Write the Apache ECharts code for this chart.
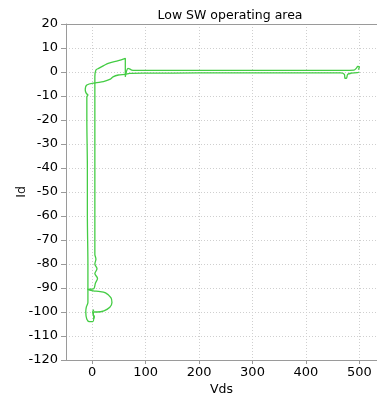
<!DOCTYPE html>
<html>
<head>
<meta charset="utf-8">
<script src="https://cdn.jsdelivr.net/npm/echarts@6/dist/echarts.min.js"></script>
<style>
  html, body { margin: 0; padding: 0; background: #fff; }
  #chart { width: 377px; height: 403px; }
</style>
</head>
<body>
<div id="chart"></div>
<script>
// Switching trajectory, drain-source voltage (V) vs drain current (A)
const xTicks = [0, 100, 200, 300, 400, 500];

// Upper branch: right knee, top rail, ramp and inner vertical with the lower loop
const vdsA = [498, 500, 497, 494, 490, 470, 400, 300, 200, 120, 80, 74, 70, 67, 64, 62, 62, 49, 30, 12, 7, 5, 5, 5, 5, 5, 5, 7, 5, 9, 5, 10, 6, 3, -8, 2, 12, 25, 35, 37, 33, 22, 10, 3, 2, 4, 2];
const idA  = [1.0, 2.0, 2.3, 1.5, 0.8, 0.7, 0.7, 0.7, 0.7, 0.7, 0.7, 0.8, 1.3, 1.5, 0.2, -2.0, 5.7, 4.7, 3.6, 1.5, 0.8, -2, -10, -30, -50, -70, -76, -78, -80, -82, -84, -86, -88, -90.3, -90.6, -91.2, -91.4, -92, -94, -96, -98, -99.5, -100, -100, -101, -102, -103];

// Lower branch: bottom rail, bend into the outer vertical and the bottom hook
const vdsB = [500, 496, 485, 478, 476, 473, 472, 465, 400, 300, 200, 100, 70, 62, 49, 39, 34, 21, 6, -10, -13, -11, -8, -10, -10, -9, -9, -8, -8, -8, -11, -12, -10, -5, 1, 3, 1, 3];
const idB  = [0.0, -0.3, -0.5, -1.0, -2.6, -2.6, -1.0, -0.4, -0.4, -0.4, -0.4, -0.5, -0.6, -1.0, -1.25, -2, -3, -4, -4.5, -5.4, -7.5, -8.9, -9.6, -10.3, -20, -40, -60, -80, -90, -96, -98, -100, -103, -104, -104, -102, -100, -99];

const toPairs = (xs, ys) => xs.map((x, i) => [x, ys[i]]);

const font = 'DejaVu Sans';
const axisGray = '#9a9a9a';
const gridStyle = { color: '#cfcfcf', type: [1, 2], width: 1 };

const chart = echarts.init(document.getElementById('chart'), null, { renderer: 'canvas' });
chart.setOption({
  animation: false,
  backgroundColor: '#ffffff',
  title: {
    text: 'Low SW operating area',
    left: 225, top: 4, textAlign: 'center',
    textStyle: { fontFamily: font, fontSize: 12.5, fontWeight: 'normal', color: '#000' }
  },
  grid: { left: 66, top: 24, right: 0, bottom: 43, containLabel: false, outerBoundsMode: 'none' },
  xAxis: [{
    type: 'value', min: -49, max: 533, position: 'bottom',
    name: 'Vds', nameLocation: 'middle', nameGap: 23, nameMoveOverlap: false,
    nameTextStyle: { fontFamily: font, fontSize: 12.5, color: '#000' },
    axisLine: { show: true, onZero: false, lineStyle: { color: axisGray } },
    axisTick: { show: true, length: 4, customValues: xTicks, lineStyle: { color: axisGray } },
    axisLabel: { customValues: xTicks, margin: 6, fontFamily: font, fontSize: 13, color: '#000' },
    splitLine: { show: true, lineStyle: gridStyle }
  }, {
    type: 'value', min: -49, max: 533, position: 'top',
    axisLine: { show: true, onZero: false, lineStyle: { color: axisGray } },
    axisTick: { show: false }, axisLabel: { show: false }, splitLine: { show: false }
  }],
  yAxis: {
    type: 'value', min: -120, max: 20, interval: 10,
    name: 'Id', nameLocation: 'middle', nameGap: 38, nameRotate: 90, nameMoveOverlap: false,
    nameTextStyle: { fontFamily: font, fontSize: 12.5, color: '#000' },
    axisLine: { show: true, onZero: false, lineStyle: { color: axisGray } },
    axisTick: { show: true, length: 5, lineStyle: { color: axisGray } },
    axisLabel: { margin: 8, fontFamily: font, fontSize: 13, color: '#000' },
    splitLine: { show: true, lineStyle: gridStyle }
  },
  series: [
    {
      type: 'line', data: toPairs(vdsA, idA), showSymbol: false, symbol: 'none',
      smooth: 0.3, lineStyle: { color: '#44cc44', width: 1.3 }, clip: true
    },
    {
      type: 'line', data: toPairs(vdsB, idB), showSymbol: false, symbol: 'none',
      smooth: 0.3, lineStyle: { color: '#44cc44', width: 1.3 }, clip: true
    }
  ]
});
</script>
</body>
</html>
